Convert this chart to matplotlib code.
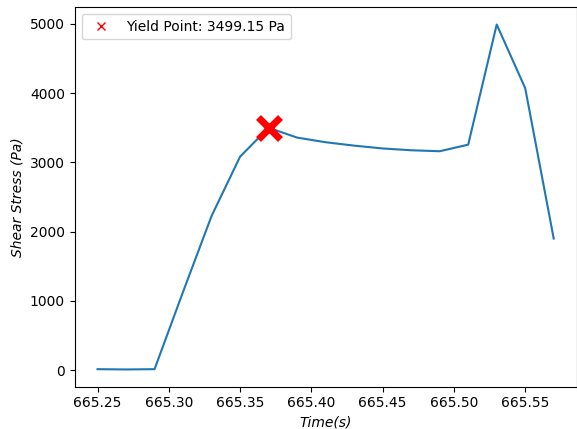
import numpy as np
import matplotlib
matplotlib.use("Agg")
import matplotlib.pyplot as plt
from matplotlib.lines import Line2D

tiempo = [665.25, 665.27, 665.29, 665.31, 665.33, 665.35, 665.37, 665.39, 665.41,
          665.43, 665.45, 665.47, 665.49, 665.51, 665.53, 665.55, 665.57]
esfuerzo = [12, 8, 12, 1130, 2225, 3082, 3499.15, 3357, 3290,
            3241, 3200, 3174, 3160, 3255, 4990, 4070, 1898]

yield_t = 665.37
yield_s = 3499.15

fig = plt.figure(figsize=(5.77, 4.29), dpi=100)
ax = fig.add_axes([0.1295, 0.0986, 0.8697, 0.8844])

ax.plot(tiempo, esfuerzo, color='tab:blue')
ax.plot(yield_t, yield_s, 'x', color='red', markersize=16, markeredgewidth=5)

proxy = Line2D([], [], linestyle='none', marker='x', color='red')
ax.legend([proxy], [f'Yield Point: {yield_s:.2f} Pa'], loc='upper left')

ax.set_xlabel('Time(s)', fontstyle='italic')
ax.set_ylabel('Shear Stress (Pa)', fontstyle='italic')

fig.savefig('out.png', dpi=100)
